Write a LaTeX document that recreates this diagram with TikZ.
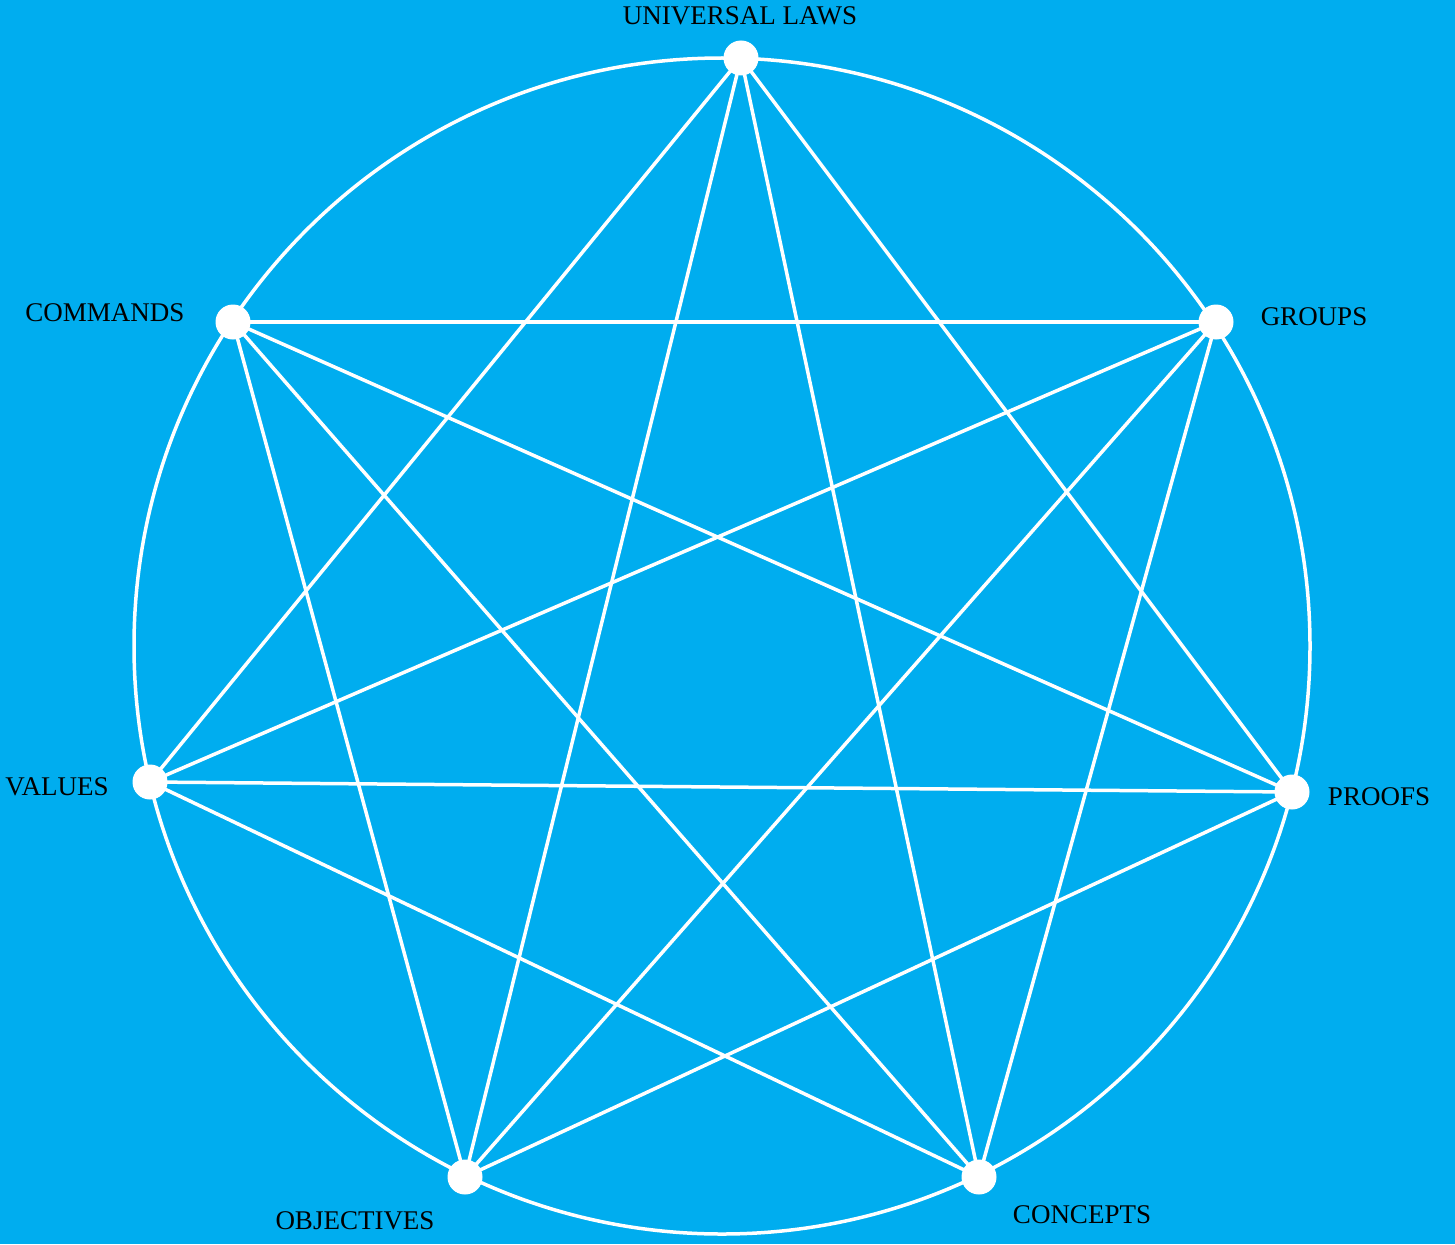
\documentclass[tikz,border=0pt]{standalone}
\usepackage{fontspec}
\setmainfont{Liberation Serif}
\definecolor{bgblue}{RGB}{0,173,239}
\begin{document}
\begin{tikzpicture}[x=1pt,y=-1pt,
  dot/.style={circle,fill=white,inner sep=0pt,minimum size=34pt},
  lbl/.style={font=\fontsize{27}{31}\selectfont,text=black,inner sep=0pt,anchor=center},
  edge/.style={white,line width=3.5pt}]
\fill[bgblue] (0,0) rectangle (1455,1244);
\useasboundingbox (0,0) rectangle (1455,1244);
\coordinate (ctr) at (722,646);
\draw[edge] (ctr) circle[radius=588];
\node[dot] (U) at (741,58) {};
\node[dot] (G) at (1216,322) {};
\node[dot] (P) at (1292,792) {};
\node[dot] (C) at (979,1177) {};
\node[dot] (O) at (465,1177) {};
\node[dot] (V) at (150,782) {};
\node[dot] (M) at (233,322) {};
\foreach \a/\b in {U/V,U/O,U/C,U/P,G/M,G/V,G/O,G/C,P/M,P/V,P/O,C/M,C/V,O/M}
  \draw[edge] (\a.center) -- (\b.center);
\foreach \n in {U,G,P,C,O,V,M}
  \fill[white] (\n.center) circle[radius=17.5];
\node[lbl] (tU) at (740,16) {UNIVERSAL LAWS};
\node[lbl] (tM) at (105,313) {COMMANDS};
\node[lbl] (tG) at (1314,317) {GROUPS};
\node[lbl] (tV) at (57,787) {VALUES};
\node[lbl] (tP) at (1379,797) {PROOFS};
\node[lbl] (tO) at (355,1221) {OBJECTIVES};
\node[lbl] (tC) at (1082,1215) {CONCEPTS};
\end{tikzpicture}
\end{document}
